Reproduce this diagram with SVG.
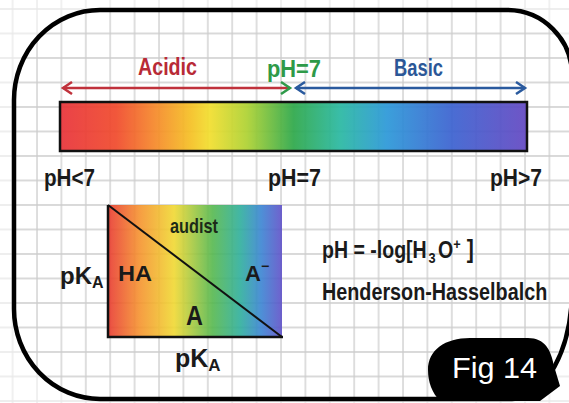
<svg xmlns="http://www.w3.org/2000/svg" width="569" height="403" viewBox="0 0 569 403">
<style>
.t{font-family:"Liberation Sans Narrow","Liberation Sans",Arial,sans-serif;font-weight:bold;}
.k{fill:#1a1a1a;}
.frame{fill:none;stroke:#000;stroke-width:4.5;}
</style>
<defs>
<pattern id="grid" patternUnits="userSpaceOnUse" x="11.6" y="8" width="24.4" height="24.5">
<path d="M1 0V24.5M0 1H24.4" stroke="#cdcdcd" stroke-width="1.3" fill="none"/>
</pattern>
<linearGradient id="spec" x1="60" y1="0" x2="527" y2="0" gradientUnits="userSpaceOnUse">
<stop offset="0" stop-color="#e8333a"/>
<stop offset="0.12" stop-color="#f04a2c"/>
<stop offset="0.2" stop-color="#f5862a"/>
<stop offset="0.28" stop-color="#f5c024"/>
<stop offset="0.32" stop-color="#f2de2e"/>
<stop offset="0.4" stop-color="#aed232"/>
<stop offset="0.5" stop-color="#2ea84a"/>
<stop offset="0.6" stop-color="#2ab8a2"/>
<stop offset="0.7" stop-color="#2c98d8"/>
<stop offset="0.84" stop-color="#3c62d0"/>
<stop offset="1" stop-color="#6448c2"/>
</linearGradient>
<linearGradient id="box" x1="108" y1="0" x2="282" y2="0" gradientUnits="userSpaceOnUse">
<stop offset="0" stop-color="#e83a30"/>
<stop offset="0.18" stop-color="#f5922e"/>
<stop offset="0.38" stop-color="#f0d832"/>
<stop offset="0.6" stop-color="#56b84e"/>
<stop offset="0.76" stop-color="#2eae9c"/>
<stop offset="0.88" stop-color="#3a84d2"/>
<stop offset="1" stop-color="#6050c8"/>
</linearGradient>
<marker id="redL" markerWidth="14" markerHeight="14" refX="11" refY="7" orient="auto-start-reverse" markerUnits="userSpaceOnUse">
<path d="M2 1L11 7L2 13" fill="none" stroke="#c0323c" stroke-width="2.5"/>
</marker>
<marker id="grnR" markerWidth="14" markerHeight="14" refX="11" refY="7" orient="auto-start-reverse" markerUnits="userSpaceOnUse">
<path d="M2 1L11 7L2 13" fill="none" stroke="#2f9a4a" stroke-width="2.5"/>
</marker>
<marker id="blu" markerWidth="14" markerHeight="14" refX="11" refY="7" orient="auto-start-reverse" markerUnits="userSpaceOnUse">
<path d="M2 1L11 7L2 13" fill="none" stroke="#2a5a9e" stroke-width="2.5"/>
</marker>
</defs>

<rect width="569" height="403" fill="#fff"/>
<rect width="569" height="403" fill="url(#grid)"/>
<path fill="#fff" fill-opacity="0.55" fill-rule="evenodd" d="M0 0H569V403H0Z M100 10L507 10A65 65 0 0 1 572 75L572 289A60 110 0 0 1 512 399L100 399A86 90 0 0 1 14 309L14 100A86 90 0 0 1 100 10Z"/>

<g id="spectrum">
<rect x="60" y="102" width="467" height="49" fill="url(#spec)" fill-opacity="0.93" stroke="#111" stroke-width="2.5"/>
</g>

<g id="connectors">
<line x1="63" y1="88" x2="290" y2="88" stroke="#c0323c" stroke-width="2.5" marker-start="url(#redL)" marker-end="url(#grnR)"/>
<line x1="296" y1="88" x2="525" y2="88" stroke="#2a5a9e" stroke-width="2.5" marker-start="url(#blu)" marker-end="url(#blu)"/>
</g>

<g id="top-labels">
<text class="t" x="138" y="75" font-size="24" fill="#b82a36" textLength="59" lengthAdjust="spacingAndGlyphs">Acidic</text>
<text class="t" x="267" y="77" font-size="24" fill="#2e9a48" textLength="54" lengthAdjust="spacingAndGlyphs">pH=7</text>
<text class="t" x="394" y="76" font-size="24" fill="#2b5797" textLength="49" lengthAdjust="spacingAndGlyphs">Basic</text>
</g>

<g id="scale-labels" class="k">
<text class="t" x="44" y="186" font-size="24" textLength="51" lengthAdjust="spacingAndGlyphs">pH&lt;7</text>
<text class="t" x="268" y="186" font-size="24" textLength="53" lengthAdjust="spacingAndGlyphs">pH=7</text>
<text class="t" x="490" y="186" font-size="24" textLength="52" lengthAdjust="spacingAndGlyphs">pH&gt;7</text>
</g>

<g id="pka-box">
<rect x="108" y="205" width="174" height="132" fill="url(#box)" fill-opacity="0.9"/>
<path d="M108 205V337H283" fill="none" stroke="#111" stroke-width="2.5"/>
<line x1="108" y1="205" x2="282" y2="337" stroke="#111" stroke-width="2"/>
<text class="t" x="170" y="233" font-size="21" fill="#1c2a18" textLength="48" lengthAdjust="spacingAndGlyphs">audist</text>
<text class="t k" x="118" y="281" font-size="22" textLength="34" lengthAdjust="spacingAndGlyphs">HA</text>
<text class="t k" x="245" y="281" font-size="22">A<tspan font-size="14" dy="-10">−</tspan></text>
<text class="t k" x="186" y="325" font-size="28" textLength="17" lengthAdjust="spacingAndGlyphs">A</text>
</g>

<g id="pka-labels" class="k">
<text class="t" x="60" y="284" font-size="24">pK<tspan font-size="16" dy="4">A</tspan></text>
<text class="t" x="175" y="367" font-size="25">pK<tspan font-size="17" dy="4">A</tspan></text>
</g>

<g id="formula" class="k">
<text class="t" transform="translate(322,258) scale(0.85,1)" font-size="23">pH = -log[H<tspan font-size="15" dx="2" dy="5">3</tspan><tspan dx="3" dy="-5">O</tspan><tspan font-size="15" dy="-9">+</tspan><tspan font-size="25" dx="7" dy="9">]</tspan></text>
<text class="t" transform="translate(322,300) scale(0.86,1)" font-size="23">Henderson-Hasselbalch</text>
</g>

<g id="frame">
<path class="frame" d="M100 10L507 10A65 65 0 0 1 572 75L572 289A60 110 0 0 1 512 399L100 399A86 90 0 0 1 14 309L14 100A86 90 0 0 1 100 10Z"/>
</g>

<g id="fig-label">
<path d="M428 370C428 350 445 338 470 338L528 338C545 338 551 350 554 366L560 386L540 401L440 401C432 393 428 382 428 370Z" fill="#000"/>
<text x="452" y="378" font-family="Liberation Sans Narrow,Liberation Sans,Arial,sans-serif" font-size="30" fill="#fff" textLength="85" lengthAdjust="spacingAndGlyphs">Fig 14</text>
</g>
</svg>
